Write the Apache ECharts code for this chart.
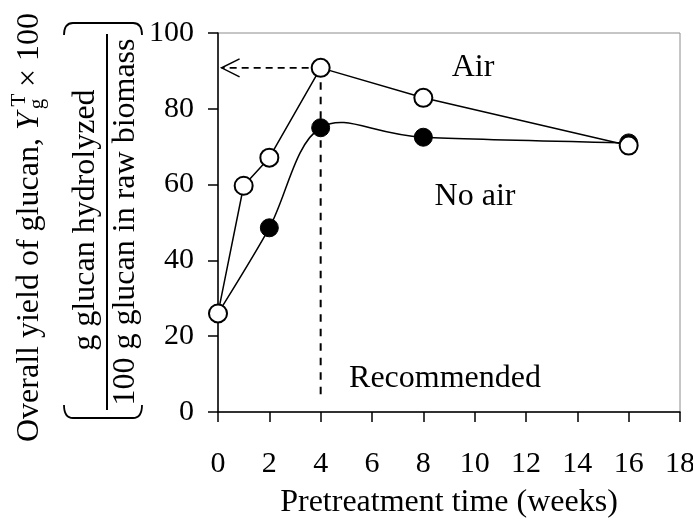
<!DOCTYPE html>
<html>
<head>
<meta charset="utf-8">
<script src="https://cdn.jsdelivr.net/npm/echarts@6.0.0/dist/echarts.min.js"></script>
<style>
html,body{margin:0;padding:0;background:#fff;}
#chart{width:693px;height:523px;}
</style>
</head>
<body>
<div id="chart"></div>
<script>
// ---- data ----
const airWeeks = [0, 1, 2, 4, 8, 16];
const airYield = [26, 59.7, 67.1, 90.8, 82.9, 70.3];
const noAirWeeks = [0, 2, 4, 8, 16];
const noAirYield = [26, 48.6, 75, 72.5, 71];
const xTicks = [0, 2, 4, 6, 8, 10, 12, 14, 16, 18];
const yTicks = [0, 20, 40, 60, 80, 100];
const recommendedWeek = 4;
const recommendedYield = 90.8;
const guideBottom = 3.4;
const arrowTipWeek = 0.14;

const FONT = '"Liberation Serif", "Times New Roman", serif';
const chart = echarts.init(document.getElementById('chart'), null, {renderer: 'canvas'});

const toPairs = (xs, ys) => xs.map((x, i) => [x, ys[i]]);

// smooth (Catmull-Rom style) segment through the no-air points, placed by the axes
function renderNoAirSegment(params, api) {
  const i = params.dataIndex;
  const n = noAirWeeks.length;
  if (i >= n - 1) return null;
  const P = j => {
    const k = Math.max(0, Math.min(n - 1, j));
    return api.coord([noAirWeeks[k], noAirYield[k]]);
  };
  const p0 = P(i - 1), p1 = P(i), p2 = P(i + 1), p3 = P(i + 2);
  return {
    type: 'bezierCurve',
    shape: {
      x1: p1[0], y1: p1[1], x2: p2[0], y2: p2[1],
      cpx1: p1[0] + (p2[0] - p0[0]) / 6, cpy1: p1[1] + (p2[1] - p0[1]) / 6,
      cpx2: p2[0] - (p3[0] - p1[0]) / 6, cpy2: p2[1] - (p3[1] - p1[1]) / 6
    },
    style: {stroke: '#000', lineWidth: 1.5, fill: null}
  };
}

const option = {
  backgroundColor: '#fff',
  animation: false,
  grid: {
    left: 218, right: 13, top: 33, bottom: 111,
    show: true, borderColor: '#8c8c8c', borderWidth: 1,
    outerBoundsMode: 'none', containLabel: false
  },
  xAxis: {
    type: 'value', min: xTicks[0], max: xTicks[xTicks.length - 1], interval: 2,
    axisLine: {show: true, onZero: false, lineStyle: {color: '#000', width: 1.5}},
    axisTick: {show: true, inside: false, length: 10, lineStyle: {color: '#000', width: 1.5}},
    splitLine: {show: false},
    axisLabel: {color: '#000', fontFamily: FONT, fontSize: 30, margin: 37, showMaxLabel: true, showMinLabel: true, hideOverlap: false},
    name: 'Pretreatment time (weeks)', nameLocation: 'middle', nameGap: 75,
    nameTextStyle: {color: '#000', fontFamily: FONT, fontSize: 32}
  },
  yAxis: {
    type: 'value', min: yTicks[0], max: yTicks[yTicks.length - 1], interval: 20,
    axisLine: {show: true, onZero: false, lineStyle: {color: '#000', width: 1.5}},
    axisTick: {show: true, inside: false, length: 10, lineStyle: {color: '#000', width: 1.5}},
    splitLine: {show: false},
    axisLabel: {color: '#000', fontFamily: FONT, fontSize: 30, margin: 24}
  },
  series: [
    {
      name: 'guide-h', type: 'line', silent: true, symbol: 'none', z: 1,
      data: [[recommendedWeek, recommendedYield], [arrowTipWeek, recommendedYield]],
      lineStyle: {color: '#000', width: 1.8, type: [7, 5]}
    },
    {
      name: 'guide-v', type: 'line', silent: true, symbol: 'none', z: 1,
      data: [[recommendedWeek, recommendedYield], [recommendedWeek, guideBottom]],
      lineStyle: {color: '#000', width: 2, type: [7.5, 7]}
    },
    {
      name: 'No air curve', type: 'custom', z: 2, silent: true,
      data: toPairs(noAirWeeks, noAirYield),
      renderItem: renderNoAirSegment
    },
    {
      name: 'No air', type: 'scatter', z: 3,
      data: toPairs(noAirWeeks, noAirYield),
      symbol: 'circle', symbolSize: 18,
      itemStyle: {color: '#000', borderColor: '#000', borderWidth: 1, opacity: 1}
    },
    {
      name: 'Air', type: 'line', z: 4,
      data: toPairs(airWeeks, airYield),
      symbol: 'circle', symbolSize: 18, showAllSymbol: true,
      itemStyle: {color: '#fff', borderColor: '#000', borderWidth: 2},
      lineStyle: {color: '#000', width: 1.5}
    }
  ]
};
chart.setOption(option);

// arrow head at the end of the horizontal guide, computed from the axes
const tip = chart.convertToPixel({gridIndex: 0}, [arrowTipWeek, recommendedYield]);
const graphics = [
  {type: 'polyline', z: 10, shape: {points: [[tip[0] + 18, tip[1] - 9], [tip[0], tip[1]], [tip[0] + 18, tip[1] + 9]]},
   style: {stroke: '#000', lineWidth: 1.5, fill: null}},
  // annotations
  {type: 'text', x: 473, y: 68, z: 10, style: {text: 'Air', font: '32px ' + FONT, fill: '#000', align: 'center', verticalAlign: 'middle'}},
  {type: 'text', x: 475, y: 197, z: 10, style: {text: 'No air', font: '32px ' + FONT, fill: '#000', align: 'center', verticalAlign: 'middle'}},
  {type: 'text', x: 445, y: 379, z: 10, style: {text: 'Recommended', font: '32px ' + FONT, fill: '#000', align: 'center', verticalAlign: 'middle'}},
  // y-axis title (rotated)
  {type: 'text', x: 30, y: 442, rotation: Math.PI / 2, z: 10,
   style: {text: 'Overall yield of glucan, {i|Y}', font: '32px ' + FONT, fill: '#000', align: 'left', verticalAlign: 'middle',
     rich: {i: {fontFamily: FONT, fontSize: 32, fontStyle: 'italic', fill: '#000'}}}},
  {type: 'text', x: 37, y: 104, rotation: Math.PI / 2, z: 10,
   style: {text: 'g', font: '21px ' + FONT, fill: '#000', align: 'center', verticalAlign: 'middle'}},
  {type: 'text', x: 19, y: 100, rotation: Math.PI / 2, z: 10,
   style: {text: 'T', font: '21px ' + FONT, fill: '#000', align: 'center', verticalAlign: 'middle'}},
  {type: 'text', x: 30, y: 95, rotation: Math.PI / 2, z: 10,
   style: {text: ' \u00d7 100', font: '32px ' + FONT, fill: '#000', align: 'left', verticalAlign: 'middle'}},
  {type: 'text', x: 86, y: 220, rotation: Math.PI / 2, z: 10,
   style: {text: 'g glucan hydrolyzed', font: '32px ' + FONT, fill: '#000', align: 'center', verticalAlign: 'middle'}},
  {type: 'line', z: 10, shape: {x1: 107, y1: 34, x2: 107, y2: 410}, style: {stroke: '#000', lineWidth: 2}},
  {type: 'text', x: 126, y: 222, rotation: Math.PI / 2, z: 10,
   style: {text: '100 g glucan in raw biomass', font: '32px ' + FONT, fill: '#000', align: 'center', verticalAlign: 'middle'}},
  // brackets
  {type: 'bezierCurve', z: 10, shape: {x1: 64, y1: 35, cpx1: 64, cpy1: 23, x2: 73, y2: 23}, style: {stroke: '#000', lineWidth: 1.8, fill: null}},
  {type: 'line', z: 10, shape: {x1: 73, y1: 23, x2: 133, y2: 23}, style: {stroke: '#000', lineWidth: 1.8}},
  {type: 'bezierCurve', z: 10, shape: {x1: 133, y1: 23, cpx1: 142, cpy1: 23, x2: 142, y2: 35}, style: {stroke: '#000', lineWidth: 1.8, fill: null}},
  {type: 'bezierCurve', z: 10, shape: {x1: 64, y1: 405, cpx1: 64, cpy1: 418, x2: 73, y2: 418}, style: {stroke: '#000', lineWidth: 1.8, fill: null}},
  {type: 'line', z: 10, shape: {x1: 73, y1: 418, x2: 133, y2: 418}, style: {stroke: '#000', lineWidth: 1.8}},
  {type: 'bezierCurve', z: 10, shape: {x1: 133, y1: 418, cpx1: 142, cpy1: 418, x2: 142, y2: 405}, style: {stroke: '#000', lineWidth: 1.8, fill: null}}
];
chart.setOption({graphic: graphics});
</script>
</body>
</html>
